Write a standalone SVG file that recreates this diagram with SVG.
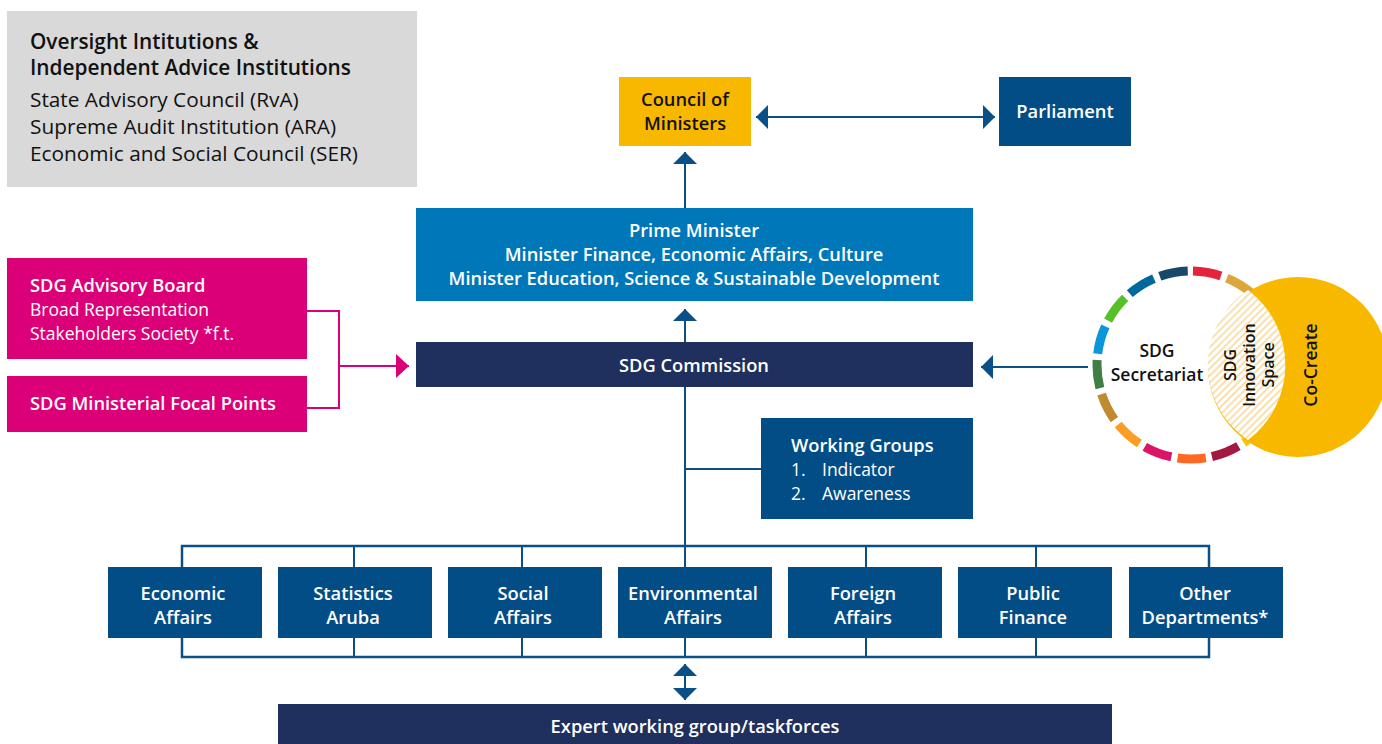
<svg xmlns="http://www.w3.org/2000/svg" width="1382" height="744" viewBox="0 0 1382 744">
<defs>
<style>
text{font-family:"Open Sans",Lato,"Liberation Sans",sans-serif;font-size:17.5px}
.b{font-weight:600;font-size:18.3px}
.w{fill:#ffffff}
.k{fill:#111111}
.c{text-anchor:middle}
.g{font-size:20.8px}
.ln{stroke:#0b4f87;stroke-width:2;fill:none}
.bus{stroke:#0b4f87;stroke-width:2.5;fill:none}
.pk{stroke:#dc0078;stroke-width:2;fill:none}
.dept{fill:#034d87}
.seg{fill:none;stroke-width:9;stroke-dasharray:28.5 600}
</style>
<marker id="ah" viewBox="0 0 12 24" refX="12" refY="12" markerWidth="12" markerHeight="24" markerUnits="userSpaceOnUse" orient="auto-start-reverse">
<path d="M0,0 L12,12 L0,24 Z" fill="#0b4f87"/>
</marker>
<marker id="ahp" viewBox="0 0 13 24" refX="13" refY="12" markerWidth="13" markerHeight="24" markerUnits="userSpaceOnUse" orient="auto">
<path d="M0,0 L13,12 L0,24 Z" fill="#dc0078"/>
</marker>
<pattern id="hatch" width="5" height="5" patternUnits="userSpaceOnUse" patternTransform="rotate(45)">
<rect width="5" height="5" fill="#ffffff"/>
<line x1="1" y1="0" x2="1" y2="5" stroke="#f5d48a" stroke-width="1.4"/>
</pattern>
</defs>
<rect width="1382" height="744" fill="#ffffff"/>

<g id="connectors">
<line class="ln" x1="756" y1="117" x2="995" y2="117" marker-start="url(#ah)" marker-end="url(#ah)"/>
<line class="ln" x1="685" y1="208" x2="685" y2="152" marker-end="url(#ah)"/>
<line class="ln" x1="685" y1="342" x2="685" y2="309" marker-end="url(#ah)"/>
<line class="ln" x1="1088" y1="367" x2="981" y2="367" marker-end="url(#ah)"/>
<polyline class="pk" points="307,311 339,311 339,408 307,408"/>
<line class="pk" x1="339" y1="366" x2="409" y2="366" marker-end="url(#ahp)"/>
<line class="ln" x1="685" y1="387" x2="685" y2="546"/>
<line class="ln" x1="685" y1="469" x2="761" y2="469"/>
<rect class="bus" x="182" y="546" width="1027" height="111"/>
<line class="ln" x1="354" y1="546" x2="354" y2="657"/>
<line class="ln" x1="522" y1="546" x2="522" y2="657"/>
<line class="ln" x1="685" y1="546" x2="685" y2="657"/>
<line class="ln" x1="866" y1="546" x2="866" y2="657"/>
<line class="ln" x1="1036" y1="546" x2="1036" y2="657"/>
<line class="ln" x1="685" y1="664" x2="685" y2="700" marker-start="url(#ah)" marker-end="url(#ah)"/>
</g>

<g id="oversight">
<rect x="7" y="11" width="410" height="176" fill="#d9d9d9"/>
<text class="b k g" x="30" y="49">Oversight Intitutions &amp;</text>
<text class="b k g" x="30" y="75">Independent Advice Institutions</text>
<text class="k g" x="30" y="107">State Advisory Council (RvA)</text>
<text class="k g" x="30" y="134">Supreme Audit Institution (ARA)</text>
<text class="k g" x="30" y="161">Economic and Social Council (SER)</text>
</g>

<g id="council">
<rect x="619" y="77" width="132" height="69" fill="#f9b800"/>
<text class="b k c" x="685" y="106">Council of</text>
<text class="b k c" x="685" y="130">Ministers</text>
</g>

<g id="parliament">
<rect x="999" y="77" width="132" height="69" fill="#034d87"/>
<text class="b w c" x="1065" y="118">Parliament</text>
</g>

<g id="prime-minister">
<rect x="416" y="208" width="557" height="93" fill="#0077b9"/>
<text class="b w c" x="694" y="237">Prime Minister</text>
<text class="b w c" x="694" y="261">Minister Finance, Economic Affairs, Culture</text>
<text class="b w c" x="694" y="285">Minister Education, Science &amp; Sustainable Development</text>
</g>

<g id="sdg-commission">
<rect x="416" y="342" width="557" height="45" fill="#1f2f5e"/>
<text class="b w c" x="694" y="372">SDG Commission</text>
</g>

<g id="advisory-board">
<rect x="7" y="258" width="300" height="101" fill="#dc0078"/>
<text class="b w" x="30" y="292">SDG Advisory Board</text>
<text class="w" x="30" y="316">Broad Representation</text>
<text class="w" x="30" y="340">Stakeholders Society *f.t.</text>
</g>

<g id="focal-points">
<rect x="7" y="376" width="300" height="56" fill="#dc0078"/>
<text class="b w" x="30" y="410">SDG Ministerial Focal Points</text>
</g>

<g id="working-groups">
<rect x="761" y="418" width="212" height="101" fill="#034d87"/>
<text class="b w" x="791" y="452">Working Groups</text>
<text class="w" x="791" y="476">1.</text>
<text class="w" x="822" y="476">Indicator</text>
<text class="w" x="791" y="500">2.</text>
<text class="w" x="822" y="500">Awareness</text>
</g>

<g id="dept-economic">
<rect class="dept" x="108" y="567" width="154" height="71"/>
<text class="b w c" x="183" y="600">Economic</text>
<text class="b w c" x="183" y="624">Affairs</text>
</g>
<g id="dept-statistics">
<rect class="dept" x="278" y="567" width="154" height="71"/>
<text class="b w c" x="353" y="600">Statistics</text>
<text class="b w c" x="353" y="624">Aruba</text>
</g>
<g id="dept-social">
<rect class="dept" x="448" y="567" width="154" height="71"/>
<text class="b w c" x="523" y="600">Social</text>
<text class="b w c" x="523" y="624">Affairs</text>
</g>
<g id="dept-environmental">
<rect class="dept" x="618" y="567" width="154" height="71"/>
<text class="b w c" x="693" y="600">Environmental</text>
<text class="b w c" x="693" y="624">Affairs</text>
</g>
<g id="dept-foreign">
<rect class="dept" x="788" y="567" width="154" height="71"/>
<text class="b w c" x="863" y="600">Foreign</text>
<text class="b w c" x="863" y="624">Affairs</text>
</g>
<g id="dept-public-finance">
<rect class="dept" x="958" y="567" width="154" height="71"/>
<text class="b w c" x="1033" y="600">Public</text>
<text class="b w c" x="1033" y="624">Finance</text>
</g>
<g id="dept-other">
<rect class="dept" x="1129" y="567" width="154" height="71"/>
<text class="b w c" x="1205" y="600">Other</text>
<text class="b w c" x="1205" y="624">Departments*</text>
</g>

<g id="expert">
<rect x="278" y="704" width="834" height="40" fill="#1f2f5e"/>
<text class="b w c" x="695" y="733">Expert working group/taskforces</text>
</g>

<g id="sdg-secretariat">
<g transform="rotate(-90 1191 365)">
<circle class="seg" cx="1191" cy="365" r="94" stroke="#e5243b" stroke-dashoffset="-2"/>
<circle class="seg" cx="1191" cy="365" r="94" stroke="#dda63a" stroke-dashoffset="-36.74"/>
<circle class="seg" cx="1191" cy="365" r="94" stroke="#4c9f38" stroke-dashoffset="-71.48"/>
<circle class="seg" cx="1191" cy="365" r="94" stroke="#c5192d" stroke-dashoffset="-106.22"/>
<circle class="seg" cx="1191" cy="365" r="94" stroke="#ff3a21" stroke-dashoffset="-140.96"/>
<circle class="seg" cx="1191" cy="365" r="94" stroke="#26bde2" stroke-dashoffset="-175.7"/>
<circle class="seg" cx="1191" cy="365" r="94" stroke="#fcc30b" stroke-dashoffset="-210.44"/>
<circle class="seg" cx="1191" cy="365" r="94" stroke="#a21942" stroke-dashoffset="-245.18"/>
<circle class="seg" cx="1191" cy="365" r="94" stroke="#fd6925" stroke-dashoffset="-279.92"/>
<circle class="seg" cx="1191" cy="365" r="94" stroke="#dd1367" stroke-dashoffset="-314.66"/>
<circle class="seg" cx="1191" cy="365" r="94" stroke="#fd9d24" stroke-dashoffset="-349.4"/>
<circle class="seg" cx="1191" cy="365" r="94" stroke="#bf8b2e" stroke-dashoffset="-384.14"/>
<circle class="seg" cx="1191" cy="365" r="94" stroke="#3f7e44" stroke-dashoffset="-418.88"/>
<circle class="seg" cx="1191" cy="365" r="94" stroke="#0a97d9" stroke-dashoffset="-453.62"/>
<circle class="seg" cx="1191" cy="365" r="94" stroke="#56c02b" stroke-dashoffset="-488.36"/>
<circle class="seg" cx="1191" cy="365" r="94" stroke="#00689d" stroke-dashoffset="-523.1"/>
<circle class="seg" cx="1191" cy="365" r="94" stroke="#19486a" stroke-dashoffset="-557.84"/>
</g>
<circle cx="1298" cy="367" r="90" fill="#f9b800"/>
<path d="M1248,290 A90,90 0 0 0 1248,440 A94,94 0 0 0 1248,290 Z" fill="url(#hatch)"/>
<text class="b k c" x="1157" y="357" style="font-size:17.5px">SDG</text>
<text class="b k c" x="1157" y="381" style="font-size:17.5px">Secretariat</text>
<g transform="translate(1255 365) rotate(-90)">
<text class="b k c" x="0" y="-19" style="font-size:16px">SDG</text>
<text class="b k c" x="0" y="0" style="font-size:16px">Innovation</text>
<text class="b k c" x="0" y="19" style="font-size:16px">Space</text>
</g>
<text class="b k c" transform="translate(1317 365) rotate(-90)" x="0" y="0" style="font-size:17.5px">Co-Create</text>
</g>
</svg>
